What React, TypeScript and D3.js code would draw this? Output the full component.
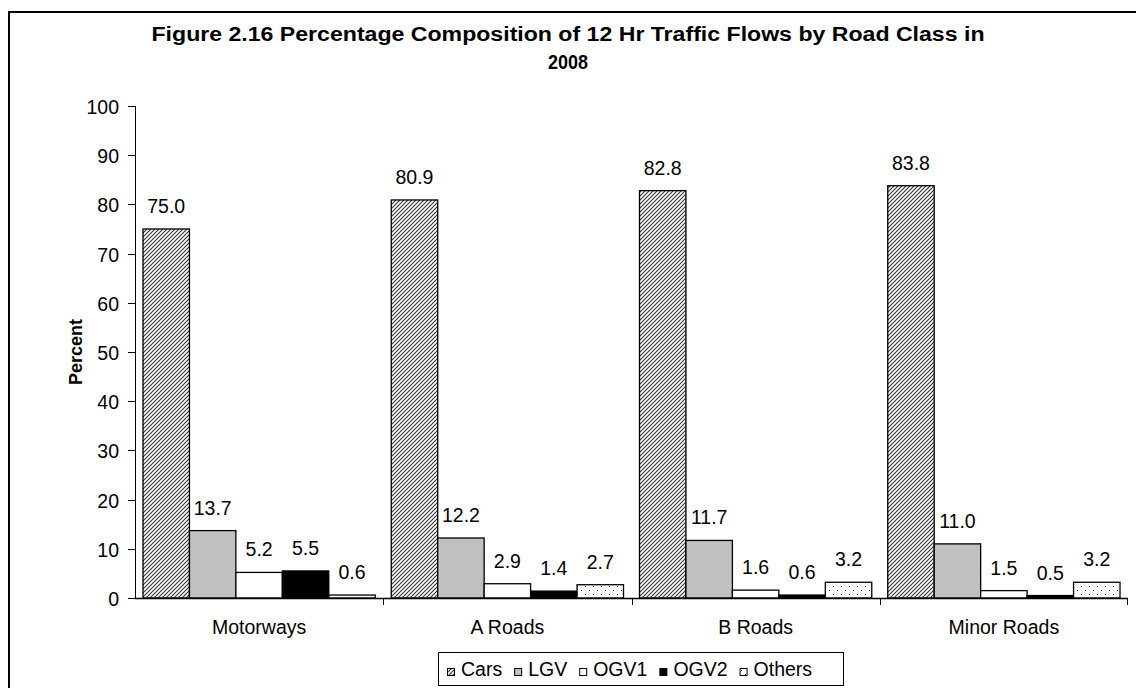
import React, { useEffect, useRef } from "react";
import * as d3 from "d3";

const categories = ["Motorways", "A Roads", "B Roads", "Minor Roads"];
const seriesNames = ["Cars", "LGV", "OGV1", "OGV2", "Others"];
const cars = [75.0, 80.9, 82.8, 83.8];
const lgv = [13.7, 12.2, 11.7, 11.0];
const ogv1 = [5.2, 2.9, 1.6, 1.5];
const ogv2 = [5.5, 1.4, 0.6, 0.5];
const others = [0.6, 2.7, 3.2, 3.2];
const yTicks = [0, 10, 20, 30, 40, 50, 60, 70, 80, 90, 100];
const titleLines = [
  "Figure 2.16 Percentage Composition of 12 Hr Traffic Flows by Road Class in",
  "2008",
];
const yTitle = "Percent";

const FONT = "'Liberation Sans', Arial, sans-serif";
const FS = 19.5;

export default function App() {
  const ref = useRef<SVGSVGElement>(null);

  useEffect(() => {
    const svg = d3.select(ref.current);
    svg.selectAll("*").remove();
    const W = 1136, H = 688;
    const left = 135, right = 1128, top = 106, bottom = 598;

    const defs = svg.append("defs");
    const hatch = defs.append("pattern").attr("id", "hatch").attr("patternUnits", "userSpaceOnUse")
      .attr("width", 4).attr("height", 4);
    hatch.append("rect").attr("width", 4).attr("height", 4).attr("fill", "#fff");
    hatch.append("path").attr("d", "M-1,1 l2,-2 M0,4 l4,-4 M3,5 l2,-2")
      .attr("stroke", "#333").attr("stroke-width", 1.1);
    const dots = defs.append("pattern").attr("id", "dots").attr("patternUnits", "userSpaceOnUse")
      .attr("width", 8).attr("height", 8);
    dots.append("rect").attr("width", 8).attr("height", 8).attr("fill", "#fff");
    dots.append("rect").attr("x", 1).attr("y", 2).attr("width", 1).attr("height", 1).attr("fill", "#000");
    dots.append("rect").attr("x", 5).attr("y", 6).attr("width", 1).attr("height", 1).attr("fill", "#000");

    const fills = ["url(#hatch)", "#c0c0c0", "#ffffff", "#000000", "url(#dots)"];
    const series = [cars, lgv, ogv1, ogv2, others];

    svg.append("rect").attr("width", W).attr("height", H).attr("fill", "#fff");
    svg.append("rect").attr("x", 9).attr("y", 12).attr("width", 1200).attr("height", 1000)
      .attr("fill", "none").attr("stroke", "#000").attr("stroke-width", 2);

    // title
    titleLines.forEach((l, i) => {
      const tt = svg.append("text").attr("x", 568).attr("y", 41 + i * 28)
        .attr("font-family", FONT).attr("font-weight", "bold")
        .attr("font-size", 20).attr("text-anchor", "middle").text(l);
      if (i === 0) tt.attr("textLength", 833).attr("lengthAdjust", "spacingAndGlyphs");
      else tt.attr("textLength", 40).attr("lengthAdjust", "spacingAndGlyphs");
    });

    const y = d3.scaleLinear().domain([0, 100]).range([bottom, top]);
    const x0 = d3.scaleBand().domain(categories).range([left, right]).paddingInner(0).paddingOuter(0);
    const x1 = d3.scaleBand().domain(seriesNames).range([0, x0.bandwidth()]).paddingOuter(0.172);

    // y axis
    svg.append("line").attr("x1", left + 0.5).attr("x2", left + 0.5).attr("y1", top).attr("y2", bottom)
      .attr("stroke", "#000");
    const yt = svg.append("g");
    yTicks.forEach((v) => {
      const yy = Math.round(y(v)) + 0.5;
      yt.append("line").attr("x1", left - 7).attr("x2", left).attr("y1", yy).attr("y2", yy).attr("stroke", "#000");
      yt.append("text").attr("x", left - 16).attr("y", yy + 7).attr("text-anchor", "end")
        .attr("font-family", FONT).attr("font-size", FS).text(String(v));
    });
    svg.append("text").attr("transform", `translate(82,${352}) rotate(-90)`)
      .attr("text-anchor", "middle").attr("font-family", FONT).attr("font-weight", "bold")
      .attr("font-size", 18).text(yTitle);

    // bars
    categories.forEach((c, ci) => {
      series.forEach((s, si) => {
        const bx = (x0(c) as number) + (x1(seriesNames[si]) as number);
        const bw = x1.bandwidth();
        const v = s[ci];
        svg.append("rect").attr("x", bx).attr("y", y(v)).attr("width", bw).attr("height", bottom - y(v))
          .attr("fill", fills[si]).attr("stroke", "#000").attr("stroke-width", 1.3);
        svg.append("text").attr("x", bx + bw / 2).attr("y", y(v) - 16).attr("text-anchor", "middle")
          .attr("font-family", FONT).attr("font-size", FS).text(v.toFixed(1));
      });
    });

    // x axis
    svg.append("line").attr("x1", left).attr("x2", right).attr("y1", bottom + 0.5).attr("y2", bottom + 0.5)
      .attr("stroke", "#000").attr("stroke-width", 1.3);
    categories.forEach((c, i) => {
      const xx = Math.round(x0(c) as number) + 0.5;
      if (i > 0) svg.append("line").attr("x1", xx).attr("x2", xx).attr("y1", bottom).attr("y2", bottom + 7).attr("stroke", "#000");
      svg.append("text").attr("x", (x0(c) as number) + x0.bandwidth() / 2).attr("y", 634)
        .attr("text-anchor", "middle").attr("font-family", FONT).attr("font-size", FS).text(c);
    });
    svg.append("line").attr("x1", right - 0.5).attr("x2", right - 0.5).attr("y1", bottom).attr("y2", bottom + 7).attr("stroke", "#000");

    // legend
    const lg = svg.append("g");
    lg.append("rect").attr("x", 438.5).attr("y", 652.5).attr("width", 405).attr("height", 33)
      .attr("fill", "#fff").attr("stroke", "#000");
    let lx = 447;
    seriesNames.forEach((n, i) => {
      lg.append("rect").attr("x", lx + 0.5).attr("y", 668.5).attr("width", 7).attr("height", 7)
        .attr("fill", fills[i]).attr("stroke", "#000").attr("stroke-width", 1);
      const tx = lg.append("text").attr("x", lx + 14).attr("y", 676).attr("font-family", FONT)
        .attr("font-size", FS).text(n);
      const w = (tx.node() as SVGTextElement).getComputedTextLength();
      lx = lx + 14 + w + 12;
    });
  }, []);

  return (
    <svg ref={ref} width={1136} height={688}
      style={{ position: "absolute", left: 0, top: 0, display: "block" }} />
  );
}
